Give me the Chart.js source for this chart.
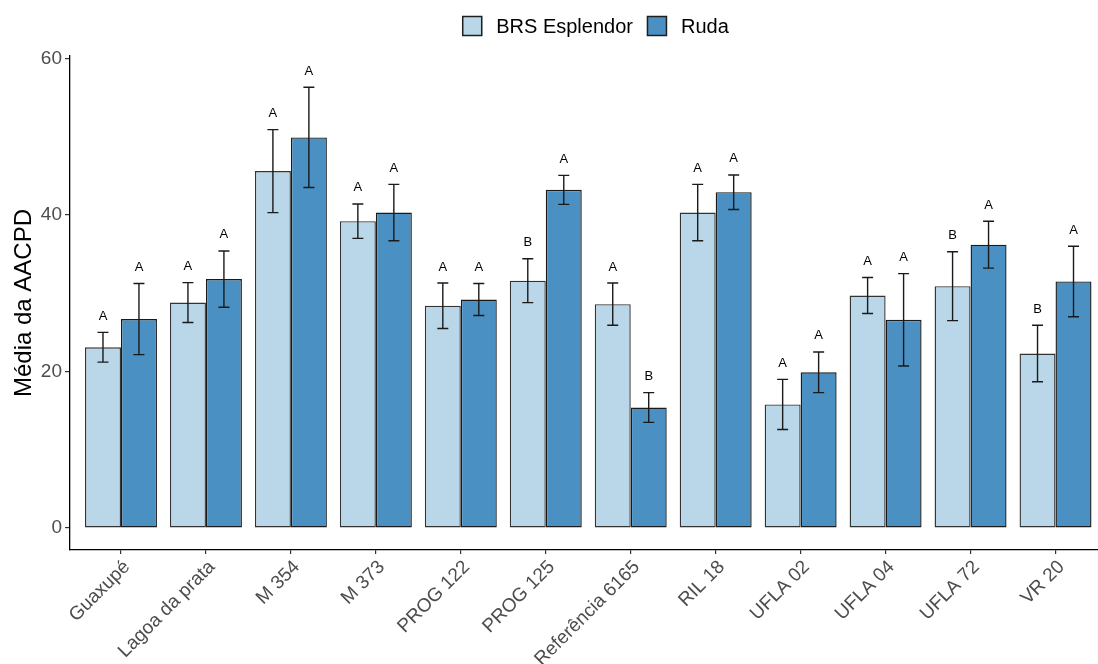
<!DOCTYPE html>
<html>
<head>
<meta charset="utf-8">
<script src="https://cdn.jsdelivr.net/npm/chart.js@4.4.1/dist/chart.umd.min.js"></script>
<style>
  html, body { margin: 0; padding: 0; background: #ffffff; }
  #wrap { width: 1098px; height: 664px; }
</style>
</head>
<body>
<div id="wrap"><canvas id="c" width="1098" height="664"></canvas></div>
<script>
// Cultivars on the x axis
const categories = ['Guaxupé', 'Lagoa da prata', 'M 354', 'M 373', 'PROG 122', 'PROG 125',
  'Referência 6165', 'RIL 18', 'UFLA 02', 'UFLA 04', 'UFLA 72', 'VR 20'];

// Mean AACPD and standard error per cultivar
const brsMean  = [23.1, 28.8, 45.6, 39.2, 28.4, 31.6, 28.6, 40.3, 15.8, 29.7, 30.9, 22.3];
const brsErr   = [1.9, 2.55, 5.3, 2.2, 2.9, 2.8, 2.7, 3.6, 3.2, 2.3, 4.4, 3.6];
const rudaMean = [26.7, 31.8, 49.9, 40.3, 29.2, 43.2, 15.4, 42.9, 19.9, 26.6, 36.2, 31.5];
const rudaErr  = [4.55, 3.6, 6.4, 3.6, 2.05, 1.85, 1.9, 2.2, 2.6, 5.9, 3.0, 4.5];

// Significance letters
const brsLetters  = ['A', 'A', 'A', 'A', 'A', 'B', 'A', 'A', 'A', 'A', 'B', 'B'];
const rudaLetters = ['A', 'A', 'A', 'A', 'A', 'A', 'B', 'A', 'A', 'A', 'A', 'A'];

const yTicks = [0, 20, 40, 60];

const FONT = "'Liberation Sans', Arial, sans-serif";

const toPoints = arr => arr.map((v, i) => ({ x: i, y: v }));

const extras = [
  { err: brsErr, letters: brsLetters },
  { err: rudaErr, letters: rudaLetters }
];

// Error bars with caps, and the letter above each one
const errorBars = {
  id: 'errorBars',
  afterDatasetsDraw(chart) {
    const ctx = chart.ctx;
    const yScale = chart.scales.y;
    chart.data.datasets.forEach((ds, di) => {
      const meta = chart.getDatasetMeta(di);
      const ex = extras[di];
      meta.data.forEach((bar, i) => {
        const m = ds.data[i].y;
        const e = ex.err[i];
        const yTop = yScale.getPixelForValue(m + e);
        const yBot = yScale.getPixelForValue(m - e);
        const x = bar.x;
        const cap = 5.5;
        ctx.save();
        ctx.strokeStyle = '#1a1a1a';
        ctx.lineWidth = 1.4;
        ctx.beginPath();
        ctx.moveTo(x, yTop); ctx.lineTo(x, yBot);
        ctx.moveTo(x - cap, yTop); ctx.lineTo(x + cap, yTop);
        ctx.moveTo(x - cap, yBot); ctx.lineTo(x + cap, yBot);
        ctx.stroke();
        ctx.fillStyle = '#000000';
        ctx.font = '13px ' + FONT;
        ctx.textAlign = 'center';
        ctx.textBaseline = 'alphabetic';
        ctx.fillText(ex.letters[i], x, yTop - 12.5);
        ctx.restore();
      });
    });
  }
};

// Horizontal legend centred above the panel
const topLegend = {
  id: 'topLegend',
  afterDraw(chart) {
    const ctx = chart.ctx;
    const box = 20, gapText = 14, gapItem = 14, fontSize = 20;
    const centerX = 595.5, centerY = 26;
    ctx.save();
    ctx.font = fontSize + 'px ' + FONT;
    const items = chart.data.datasets.map(ds => ({
      label: ds.label, fill: ds.backgroundColor,
      w: ctx.measureText(ds.label).width
    }));
    const total = items.reduce((s, it) => s + box + gapText + it.w, 0) + gapItem * (items.length - 1);
    let x = centerX - total / 2;
    items.forEach(it => {
      ctx.fillStyle = it.fill;
      ctx.fillRect(x, centerY - box / 2, box, box);
      ctx.strokeStyle = '#1f1f1f';
      ctx.lineWidth = 1.5;
      ctx.strokeRect(x + 0.5, centerY - box / 2 + 0.5, box - 1, box - 1);
      ctx.fillStyle = '#000000';
      ctx.textAlign = 'left';
      ctx.textBaseline = 'middle';
      ctx.fillText(it.label, x + box + gapText, centerY + 1);
      x += box + gapText + it.w + gapItem;
    });
    ctx.restore();
  }
};

new Chart(document.getElementById('c'), {
  type: 'bar',
  data: {
    datasets: [
      {
        label: 'BRS Esplendor',
        data: toPoints(brsMean),
        backgroundColor: '#b9d7e8',
        borderColor: '#333333',
        borderWidth: 1.4,
        borderSkipped: false,
        categoryPercentage: 0.847,
        barPercentage: 1.0
      },
      {
        label: 'Ruda',
        data: toPoints(rudaMean),
        backgroundColor: '#4a90c2',
        borderColor: '#1a1a1a',
        borderWidth: 1.4,
        borderSkipped: false,
        categoryPercentage: 0.847,
        barPercentage: 1.0
      }
    ]
  },
  options: {
    responsive: false,
    animation: false,
    devicePixelRatio: 1,
    layout: { padding: { top: 56, right: 0, left: 0, bottom: 0 } },
    plugins: {
      legend: { display: false },
      tooltip: { enabled: false }
    },
    scales: {
      x: {
        type: 'linear',
        offset: false,
        min: -0.6,
        max: 11.5,
        afterBuildTicks: s => { s.ticks = categories.map((c, i) => ({ value: i })); },
        afterFit: s => { s.height = 114; },
        ticks: {
          callback: v => categories[v],
          autoSkip: false,
          minRotation: 45,
          maxRotation: 45,
          padding: 2,
          labelOffset: 6,
          color: '#4d4d4d',
          font: { size: 19, family: FONT }
        },
        grid: { offset: false, drawOnChartArea: false, drawTicks: true, tickLength: 4, color: '#333333', lineWidth: 1.2 },
        border: { display: true, color: '#000000', width: 1.3 }
      },
      y: {
        min: -2.8,
        max: 60.3,
        afterBuildTicks: s => { s.ticks = yTicks.map(v => ({ value: v })); },
        afterFit: s => { s.width = 70; },
        ticks: {
          padding: 3,
          color: '#4d4d4d',
          font: { size: 19, family: FONT }
        },
        grid: { drawOnChartArea: false, drawTicks: true, tickLength: 5, color: '#333333', lineWidth: 1.2 },
        border: { display: true, color: '#000000', width: 1.3 },
        title: {
          display: true,
          text: 'Média da AACPD',
          color: '#000000',
          font: { size: 24, family: FONT },
          padding: { top: 10, bottom: 0 }
        }
      }
    }
  },
  plugins: [errorBars, topLegend]
});
</script>
</body>
</html>
